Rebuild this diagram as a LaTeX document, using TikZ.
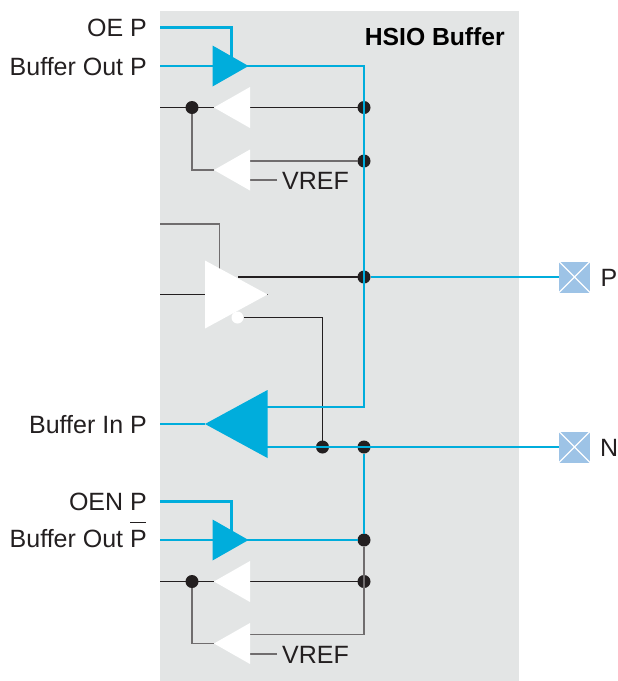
\documentclass[tikz,border=0pt]{standalone}
\usepackage{fontspec}
\setmainfont{Liberation Sans}
\usetikzlibrary{shapes.geometric,calc}
\definecolor{bluewire}{HTML}{00ADDC}
\definecolor{inkdark}{HTML}{231F20}
\definecolor{panelgrey}{HTML}{E3E5E5}
\definecolor{padblue}{HTML}{9DC3E6}
\pgfdeclarelayer{panel}
\pgfdeclarelayer{dots}
\pgfdeclarelayer{wires}
\pgfsetlayers{panel,dots,wires,main}
\tikzset{
  wire/.style={draw=inkdark,line width=1.2pt,line join=miter},
  softwire/.style={draw=inkdark!65,line width=1.3pt,line join=miter},
  hot/.style={draw=bluewire,line width=2.5pt,line join=miter},
  tribase/.style={isosceles triangle,isosceles triangle stretches,inner sep=0pt,outer sep=0pt,anchor=apex},
  smalltri/.style={tribase,minimum width=41pt,minimum height=36pt},
  bigtri/.style={tribase,minimum width=68pt,minimum height=62.5pt},
  rightw/.style={fill=white,shape border rotate=0},
  leftw/.style={fill=white,shape border rotate=180},
  rightb/.style={fill=bluewire,shape border rotate=0},
  leftb/.style={fill=bluewire,shape border rotate=180},
  jdot/.style={circle,fill=inkdark,minimum size=13pt,inner sep=0pt,outer sep=0pt},
  bubble/.style={circle,fill=white,minimum size=12pt,inner sep=0pt,outer sep=0pt},
  lab/.style={font=\fontsize{25}{27}\selectfont,text=inkdark,inner sep=0pt,anchor=base east},
  labl/.style={font=\fontsize{25}{27}\selectfont,text=inkdark,inner sep=0pt,anchor=base west},
  head/.style={font=\fontsize{24.7}{27}\selectfont\bfseries,text=black,inner sep=0pt,anchor=base east},
  padbox/.style={rectangle,fill=padblue,minimum size=31pt,inner sep=0pt,outer sep=0pt,
    path picture={\draw[white,line width=1.2pt] (path picture bounding box.south west)--(path picture bounding box.north east)
      (path picture bounding box.north west)--(path picture bounding box.south east);}},
}
\begin{document}
\begin{tikzpicture}[x=1pt,y=-1pt]
\useasboundingbox (0,0) rectangle (618,681);
\begin{pgfonlayer}{panel}
\fill[panelgrey] (160,11) rectangle (519,681);
\end{pgfonlayer}

% free ends at the panel edge
\coordinate (inOE) at (160,27.5);
\coordinate (inBO) at (160,66);
\coordinate (inA) at (160,107.5);
\coordinate (inT) at (160,224);
\coordinate (inD) at (160,294.5);
\coordinate (inBI) at (160,424);
\coordinate (inOEN) at (160,501.5);
\coordinate (inBON) at (160,540);
\coordinate (inB) at (160,581.5);
\coordinate (vr1) at (277,180);
\coordinate (vr2) at (277,654);
\coordinate (busTop) at (364,66);
\coordinate (busIn) at (364,407);
\coordinate (busLow) at (364,634.5);
\coordinate (en1) at (231.5,57);
\coordinate (en4) at (219.5,272);
\coordinate (en6) at (231.5,531);
\coordinate (fb5a) at (260,407);
\coordinate (fb5b) at (260,447);

% junction dots
\begin{pgfonlayer}{dots}
\node[jdot] (d1) at (192,107.5) {};
\node[jdot] (d2) at (364,107.5) {};
\node[jdot] (d3) at (364,161) {};
\node[jdot] (d4) at (364,277) {};
\node[jdot] (d5) at (322.5,447) {};
\node[jdot] (d6) at (364,447) {};
\node[jdot] (d7) at (364,540) {};
\node[jdot] (d8) at (364,581.5) {};
\node[jdot] (d9) at (192,581.5) {};
\end{pgfonlayer}

% buffers
\node[smalltri,rightb] (b1) at (248.5,66) {};
\node[smalltri,leftw] (b2) at (214,107.5) {};
\node[smalltri,leftw] (b3) at (214,170) {};
\node[bigtri,rightw] (b4) at (267.5,294.5) {};
\node[bigtri,leftb] (b5) at (205,424) {};
\node[smalltri,rightb] (b6) at (248.5,540) {};
\node[smalltri,leftw] (b7) at (214,581.5) {};
\node[smalltri,leftw] (b8) at (214,643.5) {};
\node[bubble] (bub) at (237.5,317.5) {};

% pads
\node[padbox] (padP) at (574.5,277) {};
\node[padbox] (padN) at (574.5,447) {};

\begin{pgfonlayer}{wires}
% dark wires
\draw[wire] (inA) -- (b2);
\draw[wire] (b2) -- (d2);
\draw[softwire] (d1) |- (b3.apex);
\draw[softwire] (d3) -- (d3 -| b3.left corner);
\draw[softwire] (vr1) -- (vr1 -| b3.left corner);
\draw[softwire] (inT) -| (en4);
\draw[wire] (inD) -- (b4.apex);
\draw[wire] (d4) -- (d4 -| bub);
\draw[wire] (bub) -| (d5);
\draw[wire] (inB) -- (b7);
\draw[wire] (d8) -- (b7);
\draw[softwire] (d9) |- (b8.apex);
\draw[softwire] (d7) -- (busLow) -- (busLow -| b8.left corner);
\draw[softwire] (vr2) -- (vr2 -| b8.left corner);
% blue wires
\draw[hot] (inOE) -| (en1);
\draw[hot] (inBO) -- (busTop) -- (busIn) -- (fb5a);
\draw[hot] (inBI) -- (b5.apex);
\draw[hot] (d4) -- (padP);
\draw[hot] (fb5b) -- (padN);
\draw[hot] (d6) -- (d7);
\draw[hot] (inOEN) -| (en6);
\draw[hot] (inBON) -- (d7);
\end{pgfonlayer}

% labels
\node[lab] (tOE) at (147,36) {OE P};
\node[lab] (tBO) at (147,75) {Buffer Out P};
\node[lab] (tBI) at (147,433) {Buffer In P};
\node[lab] (tOEN) at (147,510.5) {OEN P};
\node[lab] (tBON) at (147,547.5) {Buffer Out \makebox[0pt][l]{\smash{\raisebox{24.5pt}{\rule{16pt}{1.1pt}}}}P};
\node[head] (tHead) at (505,45) {HSIO Buffer};
\node[labl] (tV1) at (282,189.5) {VREF};
\node[labl] (tV2) at (282,663.5) {VREF};
\node[labl] (tP) at (600.5,286) {P};
\node[labl] (tN) at (600,456) {N};
\end{tikzpicture}
\end{document}
